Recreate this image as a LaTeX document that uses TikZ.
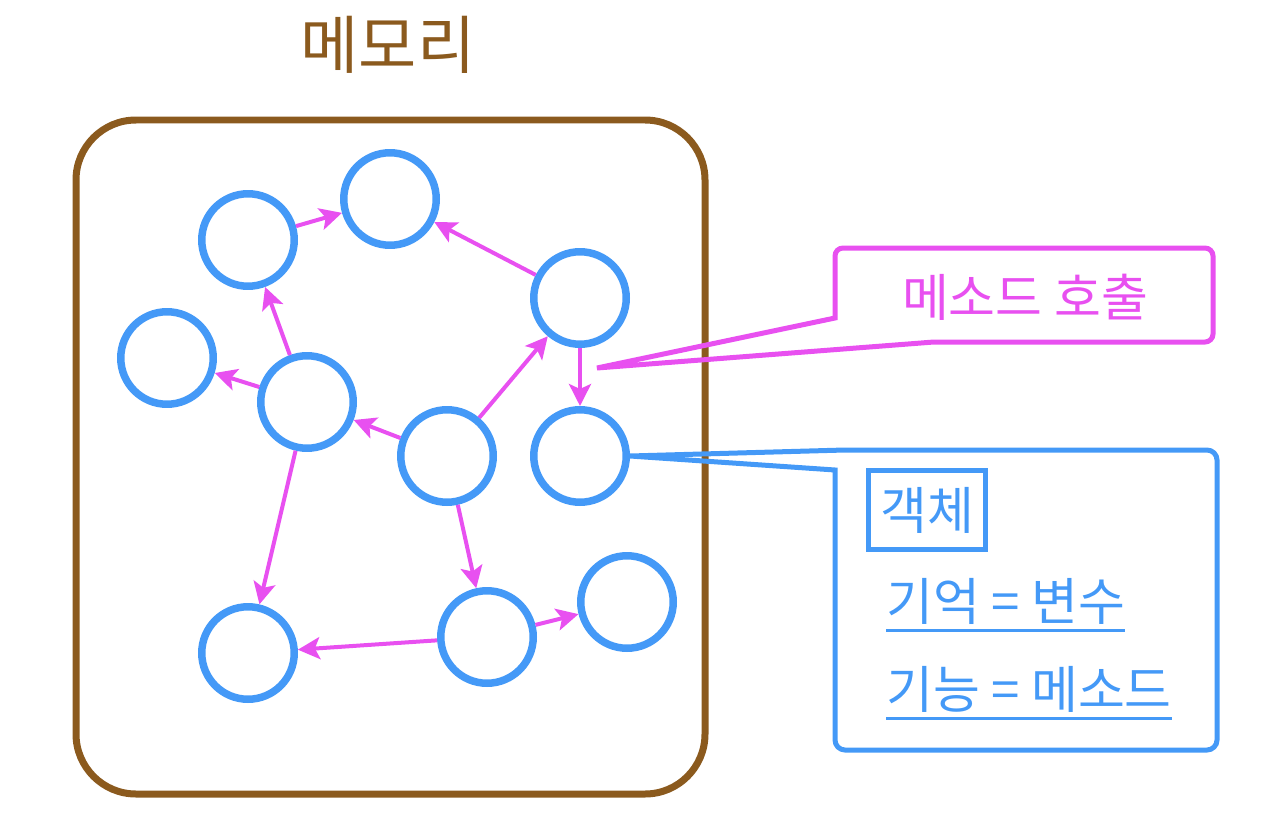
\documentclass[tikz,border=0pt]{standalone}
\usepackage{fontspec}
\newfontfamily\krfont{Noto Sans CJK KR}
\usepackage{tikz}
\usetikzlibrary{arrows.meta, positioning}
\definecolor{memorybrown}{RGB}{139, 90, 30}
\definecolor{objectblue}{RGB}{68, 153, 247}
\definecolor{callpink}{RGB}{232, 80, 240}

\begin{document}
\begin{tikzpicture}[
    x=0.02cm, y=-0.02cm,
    obj/.style={circle, draw=objectblue, line width=0.15cm, minimum size=1.85cm, inner sep=0pt},
    call/.style={-{Stealth[length=0.44cm, width=0.44cm, inset=0.1cm]}, line width=0.08cm, callpink},
    txt/.style={inner sep=0pt, font=\krfont\fontsize{29pt}{33pt}\selectfont},
    underl/.style={objectblue, line width=0.06cm}
]
\useasboundingbox (0,0) rectangle (1284,828);

% Memory
\node[font=\krfont\fontsize{36pt}{40pt}\selectfont, text=memorybrown] (memory) at (388,45) {메모리};
\draw[memorybrown, line width=0.14cm, rounded corners=1.2cm] (76,120) rectangle (705,794);

% Objects
\node[obj] (topleft) at (248,240) {};
\node[obj] (top) at (390,199) {};
\node[obj] (upright) at (580,298) {};
\node[obj] (left) at (167,358) {};
\node[obj] (midleft) at (307,402) {};
\node[obj] (center) at (447,456) {};
\node[obj] (right) at (580,456) {};
\node[obj] (botleft) at (248,653) {};
\node[obj] (botmid) at (487,637) {};
\node[obj] (botright) at (627,602) {};

% Method calls
\draw[call] (topleft) -- (top);
\draw[call] (upright) -- (top);
\draw[call] (midleft) -- (topleft);
\draw[call] (midleft) -- (left);
\draw[call] (center) -- (midleft);
\draw[call] (center) -- (upright);
\draw[call] (upright) -- (right);
\draw[call] (midleft) -- (botleft);
\draw[call] (center) -- (botmid);
\draw[call] (botmid) -- (botleft);
\draw[call] (botmid) -- (botright);

% Callout: method call
\coordinate (calltip) at (597,368);
\draw[callpink, line width=0.1cm] (calltip) -- (835,318) [rounded corners=0.16cm] -- (835,248) -- (1213,248) -- (1213,342) [sharp corners] -- (934,342) -- cycle;
\node[txt, text=callpink] (methodcall) at (1025,297) {메소드 호출};

% Callout: object
\draw[objectblue, line width=0.1cm] (right.east) -- (835,470) [rounded corners=0.2cm] -- (835,750) -- (1217,750) -- (1217,450) [sharp corners] -- (845,450) -- cycle;
\node[txt, draw=objectblue, line width=0.1cm, minimum width=2.34cm, minimum height=1.58cm, text=objectblue] (object) at (927,510) {객체};
\node[txt, anchor=west, text=objectblue] (memvar) at (886,601) {기억 = 변수};
\node[txt, anchor=west, text=objectblue] (funcmethod) at (886,689) {기능 = 메소드};
\draw[underl] ([yshift=-0.2cm]memvar.base west) -- ([yshift=-0.2cm]memvar.base east);
\draw[underl] ([yshift=-0.2cm]funcmethod.base west) -- ([yshift=-0.2cm]funcmethod.base east);
\end{tikzpicture}
\end{document}
